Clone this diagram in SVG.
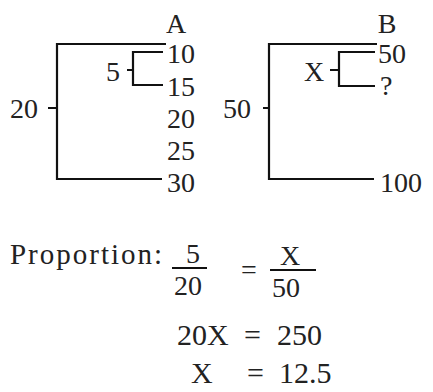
<svg xmlns="http://www.w3.org/2000/svg" width="433" height="392" viewBox="0 0 433 392">
<style>
.ln{stroke:#111;stroke-width:2.2;fill:none}
</style>
<rect width="433" height="392" fill="#fff"/>
<g id="connectors">
<path class="ln" d="M166 44H57V179H162M48 108H57"/>
<path class="ln" d="M163 52H133V85H163M127 70H133"/>
<path class="ln" d="M377 44H269V179H374M263 108H269"/>
<path class="ln" d="M375 52H339V86H375M330 70H339"/>
<path class="ln" d="M172 268H207M270 270H316"/>
</g>
<g font-family="Liberation Serif, Times New Roman, serif" font-size="28" fill="#222">
<g id="column-A">
<text x="176" y="33" text-anchor="middle">A</text>
<text x="167" y="63">10</text>
<text x="167" y="96">15</text>
<text x="167" y="128">20</text>
<text x="167" y="160">25</text>
<text x="167" y="192">30</text>
</g>
<g id="label-A20"><text x="10" y="118">20</text></g>
<g id="label-A5"><text x="106" y="81">5</text></g>
<g id="column-B">
<text x="387" y="33" text-anchor="middle">B</text>
<text x="378" y="63">50</text>
<text x="380" y="95">?</text>
<text x="380" y="192">100</text>
</g>
<g id="label-B50"><text x="223" y="118">50</text></g>
<g id="label-BX"><text x="304" y="81">X</text></g>
<g id="equations">
<text x="10" y="264" font-size="29" textLength="152" lengthAdjust="spacing">Proportion:</text>
<text x="193" y="263" text-anchor="middle">5</text>
<text x="188" y="295" text-anchor="middle">20</text>
<text x="241" y="279">=</text>
<text x="290" y="265" text-anchor="middle">X</text>
<text x="286" y="297" text-anchor="middle">50</text>
<g font-size="30">
<text x="177" y="345">20X</text>
<text x="244" y="345">=</text>
<text x="277" y="345">250</text>
<text x="191" y="383">X</text>
<text x="247" y="383">=</text>
<text x="279" y="383">12.5</text>
</g>
</g>
</g>
</svg>
